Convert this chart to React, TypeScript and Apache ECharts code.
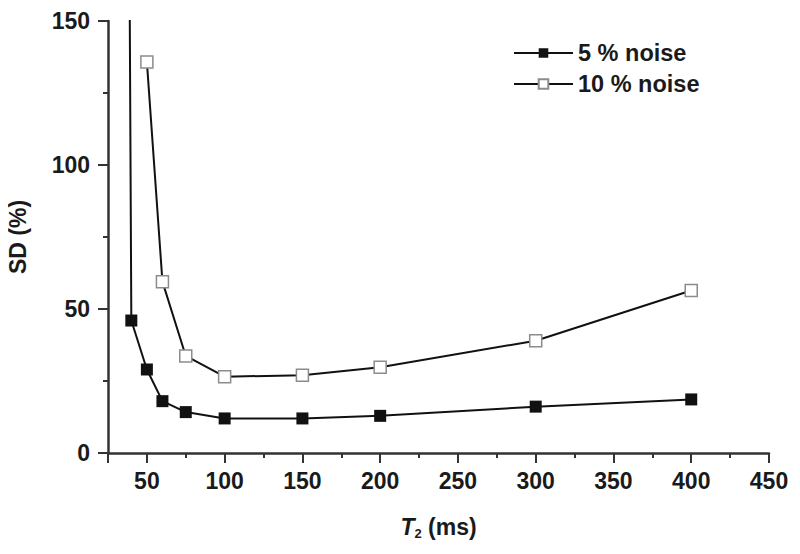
import React, { useEffect, useRef } from "react";
import * as echarts from "echarts";

const t2Noise5 = [30, 40, 50, 60, 75, 100, 150, 200, 300, 400];
const sdNoise5 = [1100, 46, 29, 18, 14.2, 12, 12, 12.9, 16.1, 18.6];
const t2Noise10 = [50, 60, 75, 100, 150, 200, 300, 400];
const sdNoise10 = [135.8, 59.5, 33.7, 26.5, 27, 29.8, 39, 56.4];
const seriesNames = ["5 % noise", "10 % noise"];

const FONT = "'Liberation Sans', Arial, sans-serif";
const AXIS_COLOR = "#333";
const TEXT_COLOR = "#1a1a1a";

export default function App() {
  const ref = useRef<HTMLDivElement>(null);
  useEffect(() => {
    if (!ref.current) return;
    const chart = echarts.init(ref.current, undefined, { renderer: "svg" });
    const labelStyle = {
      fontFamily: FONT,
      fontWeight: "bold" as const,
      fontSize: 23,
      color: TEXT_COLOR,
    };
    chart.setOption({
      animation: false,
      backgroundColor: "#fff",
      grid: {
        left: 108,
        right: 31,
        top: 21,
        bottom: 101,
        containLabel: false,
        outerBoundsMode: "none",
      },
      legend: {
        orient: "vertical",
        left: 508,
        top: 36,
        itemWidth: 59,
        itemHeight: 12,
        itemGap: 7,
        data: seriesNames,
        textStyle: { ...labelStyle, fontSize: 23.5 },
      },
      xAxis: [
        {
          type: "value",
          min: 25,
          max: 450,
          splitNumber: 8,
          position: "bottom",
          name: "{t|T}{s|2}{n| (ms)}",
          nameLocation: "middle",
          nameGap: 60,
          nameTextStyle: {
            ...labelStyle,
            rich: {
              t: { ...labelStyle, fontStyle: "italic" },
              s: { ...labelStyle, fontSize: 13, padding: [14, 0, 0, 0] },
              n: { ...labelStyle },
            },
          },
          axisLine: { show: true, lineStyle: { color: AXIS_COLOR, width: 2.5 } },
          axisTick: { show: true, inside: false, length: 10, lineStyle: { color: AXIS_COLOR, width: 2 } },
          axisLabel: {
            ...labelStyle,
            margin: 16,
            formatter: (v: number) => (v % 50 === 0 ? String(v) : ""),
          },
          splitLine: { show: false },
        },
        {
          type: "value",
          min: 25,
          max: 450,
          interval: 25,
          position: "bottom",
          axisLine: { show: false },
          axisTick: { show: true, inside: false, length: 5, lineStyle: { color: AXIS_COLOR, width: 2 } },
          axisLabel: { show: false },
          splitLine: { show: false },
        },
      ],
      yAxis: {
        type: "value",
        min: 0,
        max: 150,
        interval: 50,
        name: "SD (%)",
        nameLocation: "middle",
        nameGap: 79,
        nameTextStyle: { ...labelStyle },
        axisLine: { show: true, lineStyle: { color: AXIS_COLOR, width: 2.5 } },
        axisTick: { show: true, inside: false, length: 10, lineStyle: { color: AXIS_COLOR, width: 2 } },
        minorTick: { show: true, splitNumber: 2, length: 5, lineStyle: { color: AXIS_COLOR, width: 2 } },
        axisLabel: { ...labelStyle, margin: 18 },
        splitLine: { show: false },
      },
      series: [
        {
          name: seriesNames[0],
          type: "line",
          xAxisIndex: 0,
          clip: true,
          data: t2Noise5.map((x, i) => [x, sdNoise5[i]]),
          symbol: "rect",
          symbolSize: 12,
          lineStyle: { color: "#111", width: 2 },
          itemStyle: { color: "#111", borderColor: "#111", borderWidth: 0 },
        },
        {
          name: seriesNames[1],
          type: "line",
          xAxisIndex: 0,
          clip: true,
          data: t2Noise10.map((x, i) => [x, sdNoise10[i]]),
          symbol: "rect",
          symbolSize: 12,
          lineStyle: { color: "#111", width: 2 },
          itemStyle: { color: "#fff", borderColor: "#8c8c8c", borderWidth: 1.5 },
        },
      ],
    });
    return () => chart.dispose();
  }, []);
  return <div ref={ref} style={{ width: 800, height: 554, margin: -8 }} />;
}
